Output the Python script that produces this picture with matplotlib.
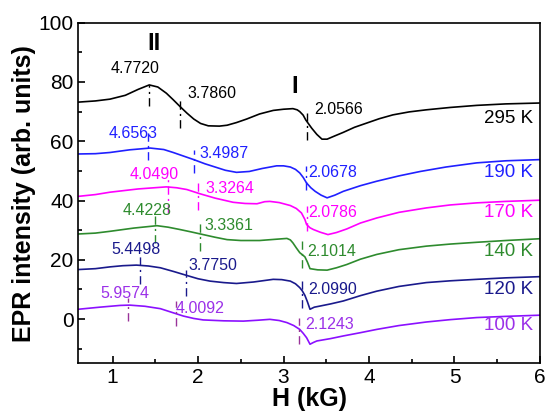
import numpy as np
import matplotlib
matplotlib.use("Agg")
import matplotlib.pyplot as plt
from matplotlib.ticker import MultipleLocator

plt.rcParams['font.family'] = ['Liberation Sans', 'DejaVu Sans']

# spectra: field (kG) and intensity
x_295 = [0.6, 0.8, 0.97, 1.15, 1.3, 1.43, 1.53, 1.63, 1.71, 1.79, 1.87, 1.95, 2.03, 2.12, 2.25, 2.34, 2.45, 2.57,
         2.72, 2.88, 3.0, 3.11, 3.16, 3.19, 3.23, 3.26, 3.30, 3.33, 3.39, 3.45, 3.51, 3.60, 3.70, 3.83, 3.97, 4.12,
         4.28, 4.47, 4.67, 4.95, 5.26, 5.6, 6.0]
y_295 = [73.2, 73.6, 74.2, 75.5, 77.5, 79.0, 78.3, 76.2, 74.0, 71.7, 69.5, 67.5, 66.0, 65.2, 65.1, 65.4, 66.3, 67.5,
         69.2, 70.4, 70.8, 71.0, 70.6, 70.0, 68.8, 67.2, 65.6, 64.4, 62.3, 60.7, 60.7, 61.8, 63.0, 64.7, 66.1, 67.6,
         68.9, 69.9, 70.6, 71.4, 72.1, 72.6, 72.9]

x_190 = [0.6, 0.8, 0.97, 1.2, 1.44, 1.6, 1.71, 1.83, 1.95, 2.08, 2.20, 2.32, 2.45, 2.6, 2.75, 2.92, 3.0, 3.08, 3.14,
         3.19, 3.23, 3.27, 3.32, 3.37, 3.44, 3.51, 3.60, 3.70, 3.9, 4.09, 4.35, 4.60, 4.9, 5.26, 5.6, 6.0]
y_190 = [55.7, 55.8, 56.2, 57.1, 57.7, 57.2, 56.2, 55.0, 53.8, 52.4, 51.3, 50.2, 49.5, 49.8, 50.8, 51.7, 51.7, 51.3, 50.5,
         49.3, 47.8, 45.9, 44.3, 43.1, 41.8, 40.9, 41.8, 43.1, 45.0, 46.5, 48.3, 49.8, 51.3, 52.7, 53.4, 53.8]

x_170 = [0.6, 0.8, 0.97, 1.3, 1.63, 1.75, 1.87, 2.02, 2.2, 2.41, 2.55, 2.69, 2.78, 2.84, 2.95, 3.08, 3.15, 3.21, 3.25,
         3.27, 3.31, 3.35, 3.43, 3.52, 3.62, 3.74, 3.9, 4.09, 4.35, 4.67, 4.95, 5.26, 5.6, 6.0]
y_170 = [41.4, 42.0, 42.8, 43.9, 44.6, 44.3, 43.7, 42.3, 40.8, 39.4, 39.0, 38.9, 39.6, 39.7, 39.3, 38.3, 37.3, 35.8, 33.6,
         31.9, 30.8, 30.2, 29.3, 28.5, 29.2, 30.4, 32.4, 34.1, 36.0, 37.5, 38.5, 39.2, 39.7, 40.1]

x_140 = [0.6, 0.8, 0.97, 1.25, 1.52, 1.65, 1.79, 1.92, 2.06, 2.2, 2.34, 2.5, 2.72, 2.9, 3.04, 3.08, 3.11, 3.15, 3.19,
         3.25, 3.28, 3.31, 3.4, 3.51, 3.62, 3.74, 3.9, 4.09, 4.35, 4.67, 4.95, 5.26, 5.6, 6.0]
y_140 = [28.7, 29.0, 29.6, 30.7, 31.5, 31.0, 30.2, 29.4, 28.5, 27.6, 26.8, 26.5, 26.5, 26.9, 27.2, 26.7, 25.7, 24.0, 22.4,
         21.0, 19.2, 17.0, 16.6, 16.5, 17.3, 18.4, 20.2, 21.8, 23.4, 24.6, 25.3, 25.9, 26.5, 27.1]

x_120 = [0.6, 0.8, 0.97, 1.12, 1.28, 1.42, 1.56, 1.72, 1.87, 2.0, 2.14, 2.3, 2.45, 2.65, 2.88, 2.98, 3.08, 3.14, 3.19,
         3.22, 3.25, 3.28, 3.31, 3.36, 3.43, 3.55, 3.70, 3.9, 4.09, 4.35, 4.67, 4.95, 5.26, 5.6, 6.0]
y_120 = [16.7, 17.0, 17.6, 18.0, 18.2, 17.9, 17.3, 16.0, 14.7, 13.6, 12.8, 12.3, 12.0, 12.5, 13.4, 13.3, 12.8, 11.9, 10.6,
         9.5, 8.0, 5.8, 3.3, 4.0, 4.4, 5.1, 6.1, 7.9, 9.4, 11.0, 12.3, 12.9, 13.4, 13.9, 14.3]

x_100 = [0.6, 0.85, 1.09, 1.20, 1.38, 1.56, 1.70, 1.83, 1.95, 2.06, 2.3, 2.53, 2.7, 2.84, 2.95, 3.04, 3.12, 3.19, 3.23,
         3.27, 3.31, 3.35, 3.39, 3.55, 3.70, 3.9, 4.09, 4.35, 4.67, 4.95, 5.26, 5.6, 6.0]
y_100 = [3.3, 4.0, 4.6, 4.7, 4.3, 3.5, 2.2, 1.0, 0.2, -0.3, -0.6, -0.7, -0.4, -0.1, -0.5, -1.2, -2.2, -3.5, -4.8,
         -6.3, -8.5, -7.9, -7.4, -6.6, -5.7, -4.6, -3.5, -2.2, -1.0, -0.2, 0.5, 0.9, 1.3]

temps = ['295 K', '190 K', '170 K', '140 K', '120 K', '100 K']
xs = [x_295, x_190, x_170, x_140, x_120, x_100]
ys = [y_295, y_190, y_170, y_140, y_120, y_100]
line_colors = ['black', '#2020ff', '#ff00ff', '#2e8b2e', '#1a1a8c', '#8b10ff']
text_colors = ['black', '#2020ff', '#ff00ff', '#2e8b2e', '#1a1a8c', '#9b30e8']
mark_colors = ['black', '#2020ff', '#ff00ff', '#2e8b2e', '#1a1a8c', '#993399']

# g-values and the marker positions (field, y from, y to)
g_labels = [['4.7720', '3.7860', '2.0566'],
            ['4.6563', '3.4987', '2.0678'],
            ['4.0490', '3.3264', '2.0786'],
            ['4.4228', '3.3361', '2.1014'],
            ['5.4498', '3.7750', '2.0990'],
            ['5.9574', '4.0092', '2.1243']]
mark_x = [[1.43, 1.79, 3.28],
          [1.41, 1.95, 3.26],
          [1.65, 2.00, 3.27],
          [1.50, 2.02, 3.22],
          [1.32, 1.86, 3.22],
          [1.18, 1.74, 3.18]]
mark_top = [[79.0, 74.0, 69.6],
            [63.9, 57.2, 51.5],
            [48.2, 45.9, 38.0],
            [34.7, 32.5, 26.3],
            [21.2, 16.7, 12.8],
            [7.2, 6.1, 0.5]]
mark_bot = [[72.0, 64.5, 60.5],
            [53.8, 49.4, 43.7],
            [35.8, 36.9, 29.6],
            [25.7, 22.9, 17.3],
            [11.7, 7.7, 3.8],
            [-0.7, -2.4, -8.5]]
# label anchor positions
lab_x = [[1.26, 2.16, 3.64],
         [1.24, 2.30, 3.57],
         [1.49, 2.37, 3.58],
         [1.40, 2.36, 3.56],
         [1.28, 2.17, 3.57],
         [1.14, 2.02, 3.54]]
lab_y = [[84.6, 76.2, 70.6],
         [62.5, 55.8, 49.3],
         [48.7, 44.2, 36.0],
         [36.7, 31.5, 22.9],
         [23.5, 18.2, 10.0],
         [8.7, 3.5, -1.8]]
temp_y = [67.8, 49.3, 36.0, 22.9, 10.0, -2.1]

fig = plt.figure(figsize=(5.45, 4.18), dpi=100)
ax = fig.add_axes([0.1437, 0.1304, 0.8471, 0.8153])

for i in range(len(temps)):
    ax.plot(xs[i], ys[i], color=line_colors[i], lw=1.2)
    for j in range(3):
        ax.plot([mark_x[i][j], mark_x[i][j]], [mark_bot[i][j], mark_top[i][j]],
                color=mark_colors[i], lw=1.0, linestyle=(0, (6, 3, 1.5, 3)))
        ax.text(lab_x[i][j], lab_y[i][j], g_labels[i][j], color=text_colors[i],
                fontsize=11.5, ha='center', va='center')
    ax.text(5.92, temp_y[i], temps[i], color=text_colors[i], fontsize=13.5,
            ha='right', va='center')

ax.text(1.49, 93.0, 'II', fontsize=17, fontweight='bold', ha='center', va='center')
ax.text(3.13, 78.5, 'I', fontsize=17, fontweight='bold', ha='center', va='center')

ax.set_xlim(0.6, 6.0)
ax.set_ylim(-15, 100)
ax.xaxis.set_major_locator(MultipleLocator(1))
ax.xaxis.set_minor_locator(MultipleLocator(0.5))
ax.yaxis.set_major_locator(MultipleLocator(20))
ax.yaxis.set_minor_locator(MultipleLocator(10))
ax.tick_params(which='both', direction='in', labelsize=15)
ax.tick_params(which='major', length=5, width=1.2)
ax.tick_params(which='minor', length=3, width=1.2)
for s in ax.spines.values():
    s.set_linewidth(1.2)

ax.set_xlabel('H (kG)', fontsize=18, fontweight='bold', labelpad=0)
ax.set_ylabel('EPR intensity (arb. units)', fontsize=18, fontweight='bold', labelpad=2)

fig.savefig('out.png', dpi=100)
